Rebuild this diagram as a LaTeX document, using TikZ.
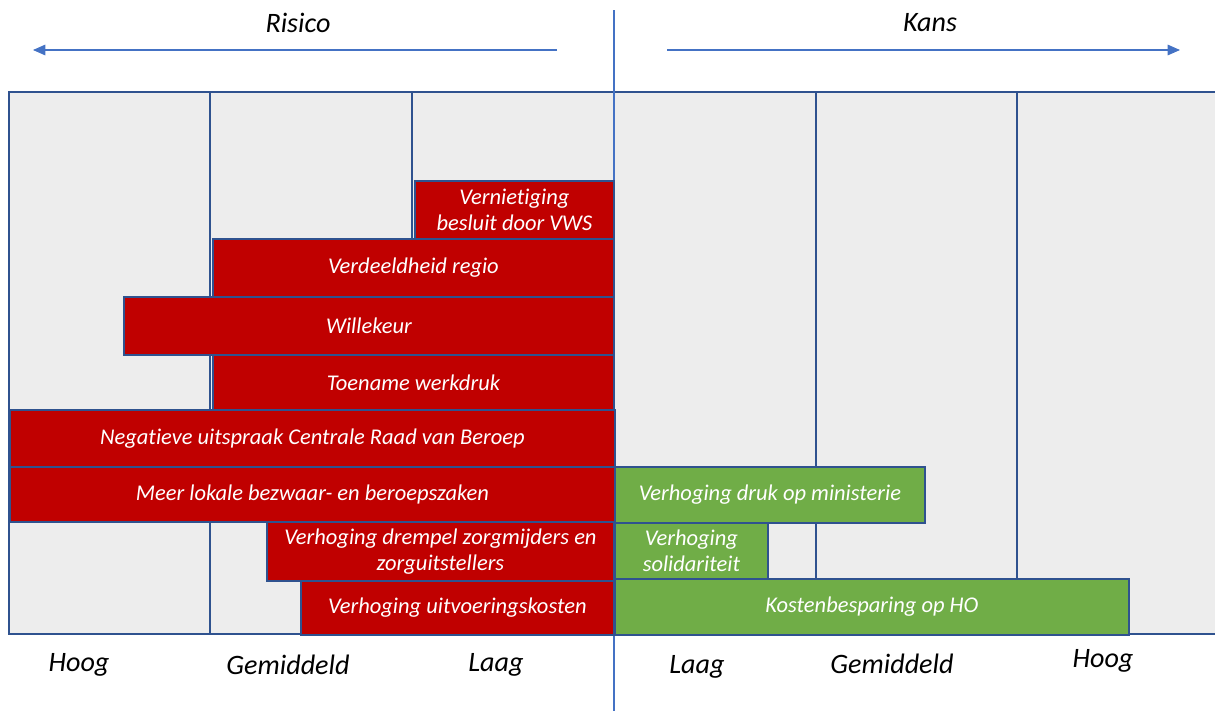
\documentclass[tikz,border=0pt]{standalone}
\usepackage{fontspec}
\setmainfont{Carlito}[RawFeature=-liga]
\usetikzlibrary{arrows.meta}

\definecolor{riskred}{HTML}{C00000}
\definecolor{kansgreen}{HTML}{70AD47}
\definecolor{cellgrey}{HTML}{EDEDED}
\definecolor{gridblue}{HTML}{2F528F}
\definecolor{axisblue}{HTML}{4472C4}

\tikzset{
  bar/.style={rectangle, draw=gridblue, line width=1.1pt, anchor=north west,
    inner sep=0pt, align=center, text=white, font=\itshape\fontsize{12.8}{15}\selectfont},
  riskbar/.style={bar, fill=riskred},
  kansbar/.style={bar, fill=kansgreen},
  axisarrow/.style={draw=axisblue, line width=0.6pt, -{Triangle[length=7pt,width=6pt]}},
  axislabel/.style={font=\itshape\fontsize{16}{18}\selectfont},
  levellabel/.style={font=\itshape\fontsize{16}{18}\selectfont}
}

\begin{document}
\begin{tikzpicture}[x=0.02cm, y=-0.02cm]
		\useasboundingbox (0,0) rectangle (1215,711);

		% Grid background
		\fill[cellgrey] (9,92) rectangle (1218,634);
		\foreach \xc in {210,412,614,816,1017}
			\draw[gridblue, line width=1.1pt] (\xc,92) -- (\xc,634);
		\draw[gridblue, line width=1.1pt] (9,92) rectangle (1218,634);

		% Middle line
		\coordinate (midtop) at (614,10);
		\coordinate (midbot) at (614,711);
		\draw[axisblue, line width=0.6pt] (midtop) -- (midbot);

		% Headers
		\node[axislabel] (risico) at (298,23) {Risico};
		\node[axislabel] (kans) at (930,23) {Kans};
		\coordinate (rstart) at (557,50);
		\coordinate (rend) at (33,50);
		\coordinate (kstart) at (667,50);
		\coordinate (kend) at (1180,50);
		\draw[axisarrow] (rstart) -- (rend);
		\draw[axisarrow] (kstart) -- (kend);

		% Risico bars
		\node[riskbar, minimum width=3.98cm, minimum height=1.16cm] (vws) at (414,180) {Vernietiging\\besluit door VWS};
		\node[riskbar, minimum width=8.02cm, minimum height=1.16cm] (regio) at (212,238) {Verdeeldheid regio};
		\node[riskbar, minimum width=9.80cm, minimum height=1.16cm] (willekeur) at (123,296) {Willekeur};
		\node[riskbar, minimum width=8.02cm, minimum height=1.10cm] (werkdruk) at (212,354) {Toename werkdruk};
		\node[riskbar, minimum width=12.10cm, minimum height=1.14cm] (crvb) at (9,409) {Negatieve uitspraak Centrale Raad van Beroep};
		\node[riskbar, minimum width=12.10cm, minimum height=1.10cm] (lokaal) at (9,466) {Meer lokale bezwaar- en beroepszaken};
		\node[riskbar, minimum width=6.94cm, minimum height=1.18cm] (drempel) at (266,521) {Verhoging drempel zorgmijders en\\zorguitstellers};
		\node[riskbar, minimum width=6.26cm, minimum height=1.08cm] (uitvoering) at (300,580) {Verhoging uitvoeringskosten};

		% Kans bars
		\node[kansbar, minimum width=6.20cm, minimum height=1.12cm] (ministerie) at (614,466) {Verhoging druk op ministerie};
		\node[kansbar, minimum width=3.06cm, minimum height=1.12cm] (solidariteit) at (614,522) {Verhoging\\solidariteit};
		\node[kansbar, minimum width=10.28cm, minimum height=1.12cm] (besparing) at (614,578) {Kostenbesparing op HO};

		% Level labels
		\node[levellabel] (rhoog) at (79,665) {Hoog};
		\node[levellabel] (rgem) at (288,665) {Gemiddeld};
		\node[levellabel] (rlaag) at (496,665) {Laag};
		\node[levellabel] (klaag) at (697,667) {Laag};
		\node[levellabel] (kgem) at (892,664) {Gemiddeld};
		\node[levellabel] (khoog) at (1103,661) {Hoog};
	\end{tikzpicture}
\end{document}
